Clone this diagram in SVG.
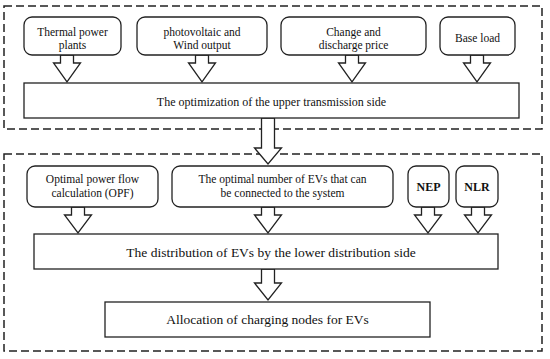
<svg xmlns="http://www.w3.org/2000/svg" width="550" height="359" viewBox="0 0 550 359">
<style>
.bg{fill:#fff}
.dash{fill:none;stroke:#222;stroke-width:1.5;stroke-dasharray:8 4}
.rb{fill:#fff;stroke:#222;stroke-width:1.3}
.sb{fill:#fff;stroke:#222;stroke-width:1.3}
.ar{fill:#fff;stroke:#222;stroke-width:1.3;stroke-linejoin:miter}
text{font-family:"Liberation Serif","Times New Roman",serif;fill:#111;text-anchor:middle}
.s{font-size:11.5px}
.m{font-size:12px}
.l{font-size:13.5px}
.b{font-size:12px;font-weight:bold}
</style>
<rect class="bg" x="0" y="0" width="550" height="359"/>
<g id="upper-section">
<rect class="dash" x="4" y="6" width="538" height="123"/>
</g>
<g id="lower-section">
<rect class="dash" x="4" y="154" width="538" height="197"/>
</g>
<g id="connectors">
<polygon class="ar" points="60.5,55 73.5,55 73.5,63 80.5,63 67,82 53.5,63 60.5,63"/>
<polygon class="ar" points="195.5,55 208.5,55 208.5,63 215.5,63 202,82 188.5,63 195.5,63"/>
<polygon class="ar" points="345.5,55 358.5,55 358.5,63 365.5,63 352,82 338.5,63 345.5,63"/>
<polygon class="ar" points="470.5,55 483.5,55 483.5,63 490.5,63 477,82 463.5,63 470.5,63"/>
<polygon class="ar" points="261.5,118 274.5,118 274.5,148 281.5,148 268,164 254.5,148 261.5,148"/>
<polygon class="ar" points="71.5,207 84.5,207 84.5,215 91.5,215 78,233 64.5,215 71.5,215"/>
<polygon class="ar" points="261.5,207 274.5,207 274.5,215 281.5,215 268,233 254.5,215 261.5,215"/>
<polygon class="ar" points="421.5,207 434.5,207 434.5,215 441.5,215 428,233 414.5,215 421.5,215"/>
<polygon class="ar" points="471.5,207 484.5,207 484.5,215 491.5,215 478,233 464.5,215 471.5,215"/>
<polygon class="ar" points="261.5,269 274.5,269 274.5,283 281.5,283 268,300 254.5,283 261.5,283"/>
</g>
<g id="thermal">
<rect class="rb" x="24" y="17" width="97" height="38" rx="8"/>
<text class="s" x="72.5" y="36">Thermal power</text>
<text class="s" x="72.5" y="49">plants</text>
</g>
<g id="pv-wind">
<rect class="rb" x="137" y="17" width="130" height="38" rx="8"/>
<text class="s" x="202" y="36">photovoltaic and</text>
<text class="s" x="202" y="49">Wind output</text>
</g>
<g id="price">
<rect class="rb" x="281" y="17" width="145" height="38" rx="8"/>
<text class="s" x="353.5" y="36">Change and</text>
<text class="s" x="353.5" y="49">discharge price</text>
</g>
<g id="base-load">
<rect class="rb" x="440" y="17" width="75" height="38" rx="8"/>
<text class="s" x="477.5" y="42">Base load</text>
</g>
<g id="upper-opt">
<rect class="sb" x="24" y="83" width="495" height="35"/>
<text class="m" x="271.5" y="106">The optimization of the upper transmission side</text>
</g>
<g id="opf">
<rect class="rb" x="27" y="166" width="131" height="41" rx="8"/>
<text class="s" x="92.5" y="183">Optimal power flow</text>
<text class="s" x="92.5" y="197">calculation (OPF)</text>
</g>
<g id="ev-number">
<rect class="rb" x="172" y="166" width="221" height="41" rx="8"/>
<text class="s" x="282.5" y="183">The optimal number of EVs that can</text>
<text class="s" x="282.5" y="197">be connected to the system</text>
</g>
<g id="nep">
<rect class="rb" x="408" y="166" width="41" height="41" rx="8"/>
<text class="b" x="428.5" y="191">NEP</text>
</g>
<g id="nlr">
<rect class="rb" x="456" y="166" width="42" height="41" rx="8"/>
<text class="b" x="477" y="191">NLR</text>
</g>
<g id="distribution">
<rect class="sb" x="34" y="234" width="464" height="35"/>
<text class="l" x="271" y="257">The distribution of EVs by the lower distribution side</text>
</g>
<g id="allocation">
<rect class="sb" x="105" y="302" width="325" height="35"/>
<text class="l" x="267.5" y="324">Allocation of charging nodes for EVs</text>
</g>
</svg>
